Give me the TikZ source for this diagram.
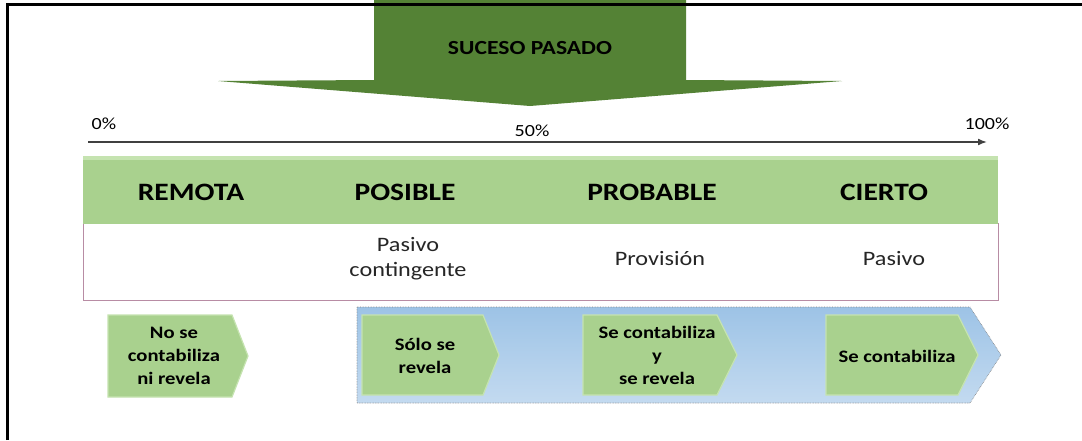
\documentclass[tikz,border=0pt]{standalone}
\usepackage{fontspec}
\setmainfont[FakeStretch=1.18]{Carlito}
\usetikzlibrary{arrows.meta}
\definecolor{darkgreen}{HTML}{548235}
\definecolor{lightgreen}{HTML}{A9D18E}
\definecolor{bevelgreen}{HTML}{C5E3B0}
\definecolor{bluetop}{HTML}{9DC3E6}
\definecolor{bluebot}{HTML}{C3DAF0}
\definecolor{pinkborder}{HTML}{B88CA4}
\definecolor{axisgray}{HTML}{404040}
\definecolor{textgray}{HTML}{262626}
\tikzset{
  headlabel/.style={font=\bfseries\fontsize{25}{28}\selectfont, text=black},
  celltext/.style={font=\fontsize{20.5}{25}\selectfont, text=textgray, align=center},
  chevtext/.style={font=\bfseries\fontsize{17.5}{23}\selectfont, text=black, align=center},
  pcttext/.style={font=\fontsize{17}{20}\selectfont, text=black},
  chevron/.style={fill=lightgreen, draw=bevelgreen, line width=1.2pt, line join=miter},
}
\begin{document}
\begin{tikzpicture}[x=1pt,y=-1pt]
\useasboundingbox (0,0) rectangle (1082,440);
\fill[white] (0,0) rectangle (1082,440);

% top arrow
\fill[darkgreen] (374,0) -- (686,0) -- (686,80) -- (842,81) -- (530,106) -- (218,81) -- (374,80) -- cycle;
\node[font=\bfseries\fontsize{20}{24}\selectfont, text=black] (suceso) at (530,48) {SUCESO PASADO};

% frame
\draw[line width=3pt] (7,440) -- (7,4) -- (1082,4);

% axis
\coordinate (a0) at (88,142);
\coordinate (a1) at (987,142);
\draw[line width=1.6pt, axisgray, -{Latex[length=9pt,width=7pt]}] (a0) -- (a1);
\node[pcttext] (p0) at (104,124) {0\%};
\node[pcttext] (p50) at (532,131) {50\%};
\node[pcttext] (p100) at (987,124) {100\%};

% table
\draw[pinkborder, line width=1pt] (83,223) rectangle (998,300);
\fill[lightgreen] (83,156) rectangle (998,224);
\fill[bevelgreen] (83,156) rectangle (998,160);
\node[headlabel] (remota) at (191,192) {REMOTA};
\node[headlabel] (posible) at (405,192) {POSIBLE};
\node[headlabel] (probable) at (652,192) {PROBABLE};
\node[headlabel] (cierto) at (884,192) {CIERTO};
\node[celltext] (pasivoc) at (408,259) {Pasivo\\contingente};
\node[celltext] (provision) at (660,259) {Provisión};
\node[celltext] (pasivo) at (894,259) {Pasivo};

% blue big arrow
\shade[top color=bluetop, bottom color=bluebot] (357,307) -- (970,307) -- (1001,355) -- (970,403) -- (357,403) -- cycle;
\draw[gray, line width=0.6pt, densely dotted] (357,307) -- (970,307) -- (1001,355) -- (970,403) -- (357,403) -- cycle;

% chevrons
\path[chevron] (108,315) -- (232,315) -- (248,356) -- (232,397) -- (108,397) -- cycle;
\node[chevtext] (c1) at (174,356) {No se\\contabiliza\\ni revela};

\path[chevron] (362,315) -- (483,315) -- (499,355) -- (483,395) -- (362,395) -- cycle;
\node[chevtext] (c2) at (425,356) {Sólo se\\revela};

\path[chevron] (583,315) -- (717,315) -- (737,355) -- (717,395) -- (583,395) -- cycle;
\node[chevtext] (c3) at (657,355) {Se contabiliza\\y\\se revela};

\path[chevron] (826,315) -- (958,315) -- (978,355) -- (958,395) -- (826,395) -- cycle;
\node[chevtext] (c4) at (897,356) {Se contabiliza};
\end{tikzpicture}
\end{document}
